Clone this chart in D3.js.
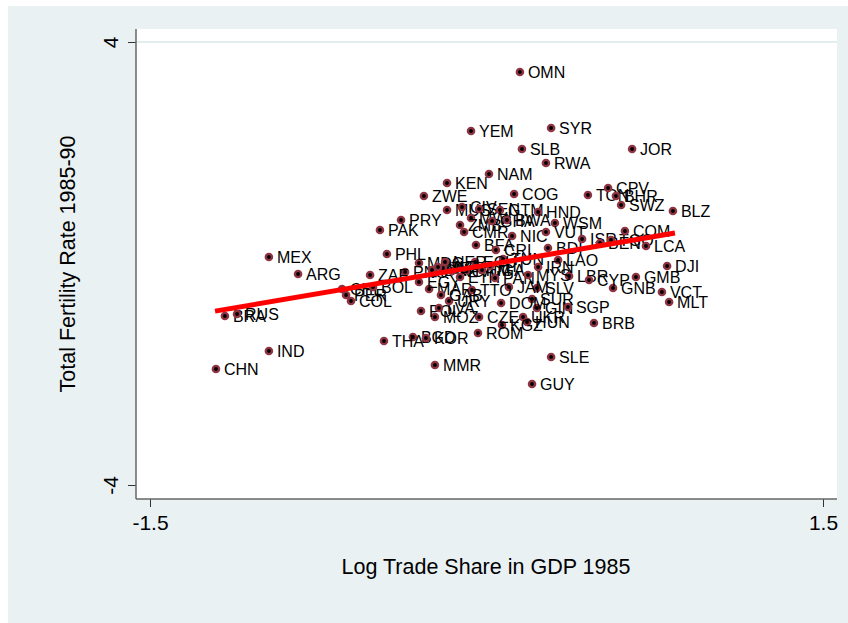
<!DOCTYPE html>
<html>
<head>
<meta charset="utf-8">
<script src="https://cdn.jsdelivr.net/npm/d3@7"></script>
<style>
  body { margin: 0; background: #ffffff; }
  svg text { font-family: "Liberation Sans", Arial, Helvetica, sans-serif; }
</style>
</head>
<body>
<div class="chart"></div>
<script>
// country codes, log trade share (x) and fertility (y)
var countries = ["OMN","YEM","SYR","SLB","JOR","RWA","NAM","KEN","COG","ZWE",
  "TON","CPV","BHR","SWZ","BLZ","MUS","CIV","SEN","GTM","HND",
  "MWI","ZMB","GHA","BWA","WSM","CMR","NIC","VUT","BFA","CRI",
  "BDI","ISR","BEN","TGO","COM","LCA","DJI","GMB","GNB","VCT",
  "MLT","LBR","CYP","LAO","SLV","SUR","GIN","SGP","DOM","BRB",
  "SLE","GUY","UKR","HUN","KGZ","ROM","CZE","MOZ","POL","LVA",
  "URY","MAR","EGY","MDG","PNG","BGD","KOR","MMR","THA","CHN",
  "IND","BRA","RUS","MEX","ARG","CHL","PER","COL","BOL","ZAF",
  "PHL","PAK","PRY","IDN","TZA","NGA","ETH","KHM","UGA","PAN",
  "TUN","JAM","TTO","ECU","MYS","IRN","GAB","MLI","NER","HTI"];

var tradeShare = [0.149,-0.069,0.288,0.158,0.649,0.265,0.011,-0.176,0.123,-0.279,
  0.452,0.542,0.577,0.600,0.831,-0.176,-0.109,-0.033,0.060,0.230,
  -0.069,-0.118,0.025,0.091,0.305,-0.100,0.114,0.265,-0.047,0.042,
  0.274,0.426,0.506,0.555,0.617,0.711,0.805,0.666,0.564,0.782,
  0.814,0.368,0.457,0.319,0.225,0.203,0.225,0.363,0.065,0.479,
  0.288,0.203,0.163,0.181,0.069,-0.038,-0.033,-0.230,-0.292,-0.212,
  -0.167,-0.256,-0.301,-0.301,-0.363,-0.328,-0.270,-0.230,-0.457,-1.206,
  -0.970,-1.166,-1.112,-0.970,-0.840,-0.644,-0.626,-0.604,-0.506,-0.519,
  -0.444,-0.475,-0.381,-0.243,-0.194,-0.154,-0.118,-0.087,-0.020,0.038,
  0.074,0.100,-0.065,-0.051,0.185,0.230,-0.203,-0.216,-0.185,0.016];

var fertility = [3.458,2.393,2.447,2.068,2.068,1.815,1.616,1.454,1.255,1.219,
  1.237,1.363,1.219,1.056,0.948,0.966,1.020,0.984,0.966,0.930,
  0.822,0.695,0.768,0.786,0.731,0.569,0.497,0.569,0.334,0.244,
  0.280,0.442,0.370,0.424,0.587,0.316,-0.045,-0.244,-0.442,-0.515,
  -0.695,-0.226,-0.298,0.063,-0.442,-0.641,-0.804,-0.786,-0.713,-1.074,
  -1.688,-2.176,-0.966,-1.056,-1.111,-1.255,-0.966,-0.966,-0.858,-0.804,
  -0.677,-0.461,-0.334,0.009,-0.153,-1.327,-1.345,-1.833,-1.400,-1.905,
  -1.580,-0.948,-0.912,0.117,-0.190,-0.461,-0.569,-0.677,-0.424,-0.208,
  0.172,0.605,0.786,-0.117,-0.081,-0.135,-0.244,-0.117,-0.117,-0.262,
  0.081,-0.424,-0.479,0.027,-0.208,-0.063,-0.569,-0.063,0.027,-0.045];

// fitted line end points
var fitX = [-1.21, 0.84];
var fitY = [-0.86, 0.55];

var xTicks = [-1.5, 1.5];
var yTicks = [-4, 4];

var W = 848, H = 623;
var plot = {left:136, top:29, right:837, bottom:499};

var svg = d3.select(".chart").append("svg")
  .attr("width", W)
  .attr("height", H);

// graph region
svg.append("rect")
  .attr("x", 8).attr("y", 6)
  .attr("width", W - 8).attr("height", H - 6)
  .attr("fill", "#eaf1f3");

// plot region
svg.append("rect")
  .attr("x", plot.left).attr("y", plot.top)
  .attr("width", plot.right - plot.left)
  .attr("height", plot.bottom - plot.top)
  .attr("fill", "#ffffff");

var x = d3.scaleLinear().domain([-1.5, 1.5]).range([150, 823]);
var y = d3.scaleLinear().domain([-4, 4]).range([485, 42]);

// grid line at the top label
svg.append("line")
  .attr("x1", plot.left).attr("x2", plot.right)
  .attr("y1", y(4)).attr("y2", y(4))
  .attr("stroke", "#e3ecef")
  .attr("stroke-width", 2);

// Y axis
var yAxis = svg.append("g")
  .attr("transform", "translate(" + plot.left + ",0)")
  .call(d3.axisLeft(y).tickValues(yTicks).tickSize(8).tickFormat(function(d){ return String(d); }));
yAxis.select(".domain").remove();
yAxis.selectAll(".tick line").attr("stroke", "#333");
yAxis.selectAll(".tick text")
  .attr("x", 0).attr("dy", 0)
  .attr("transform", "translate(-18,0) rotate(-90)")
  .style("text-anchor", "middle")
  .style("font-size", "21px")
  .attr("fill", "#000");

// X axis
var xAxis = svg.append("g")
  .attr("transform", "translate(0," + plot.bottom + ")")
  .call(d3.axisBottom(x).tickValues(xTicks).tickSize(8).tickFormat(function(d){ return d.toFixed(1); }));
xAxis.select(".domain").remove();
xAxis.selectAll(".tick line").attr("stroke", "#333");
xAxis.selectAll(".tick text")
  .attr("y", 16).attr("dy", "0.71em")
  .style("font-size", "21px")
  .attr("fill", "#000");

// axis lines
svg.append("line")
  .attr("x1", plot.left).attr("x2", plot.left)
  .attr("y1", plot.top).attr("y2", plot.bottom)
  .attr("stroke", "#666").attr("stroke-width", 1.5);
svg.append("line")
  .attr("x1", plot.left).attr("x2", plot.right)
  .attr("y1", plot.bottom).attr("y2", plot.bottom)
  .attr("stroke", "#666").attr("stroke-width", 1.5);

// points and labels
var pts = svg.append("g").selectAll("g")
  .data(countries)
  .enter()
  .append("g")
  .attr("transform", function(d, i){
    return "translate(" + x(tradeShare[i]) + "," + y(fertility[i]) + ")";
  });
pts.append("circle")
  .attr("r", 4.3)
  .attr("fill", "#8e3442");
pts.append("circle")
  .attr("r", 1.9)
  .attr("fill", "#000");
pts.append("text")
  .attr("x", 8)
  .attr("dy", "0.36em")
  .style("font-size", "16px")
  .attr("fill", "#000")
  .text(function(d){ return d; });

// fitted line
svg.append("line")
  .attr("x1", x(fitX[0])).attr("y1", y(fitY[0]))
  .attr("x2", x(fitX[1])).attr("y2", y(fitY[1]))
  .attr("stroke", "#ff0000")
  .attr("stroke-width", 5);

// axis titles
svg.append("text")
  .attr("x", 486)
  .attr("y", 574)
  .style("text-anchor", "middle")
  .style("font-size", "21.5px")
  .text("Log Trade Share in GDP 1985");

svg.append("text")
  .attr("transform", "translate(75,264) rotate(-90)")
  .style("text-anchor", "middle")
  .style("font-size", "21.5px")
  .text("Total Fertility Rate 1985-90");
</script>
</body>
</html>
